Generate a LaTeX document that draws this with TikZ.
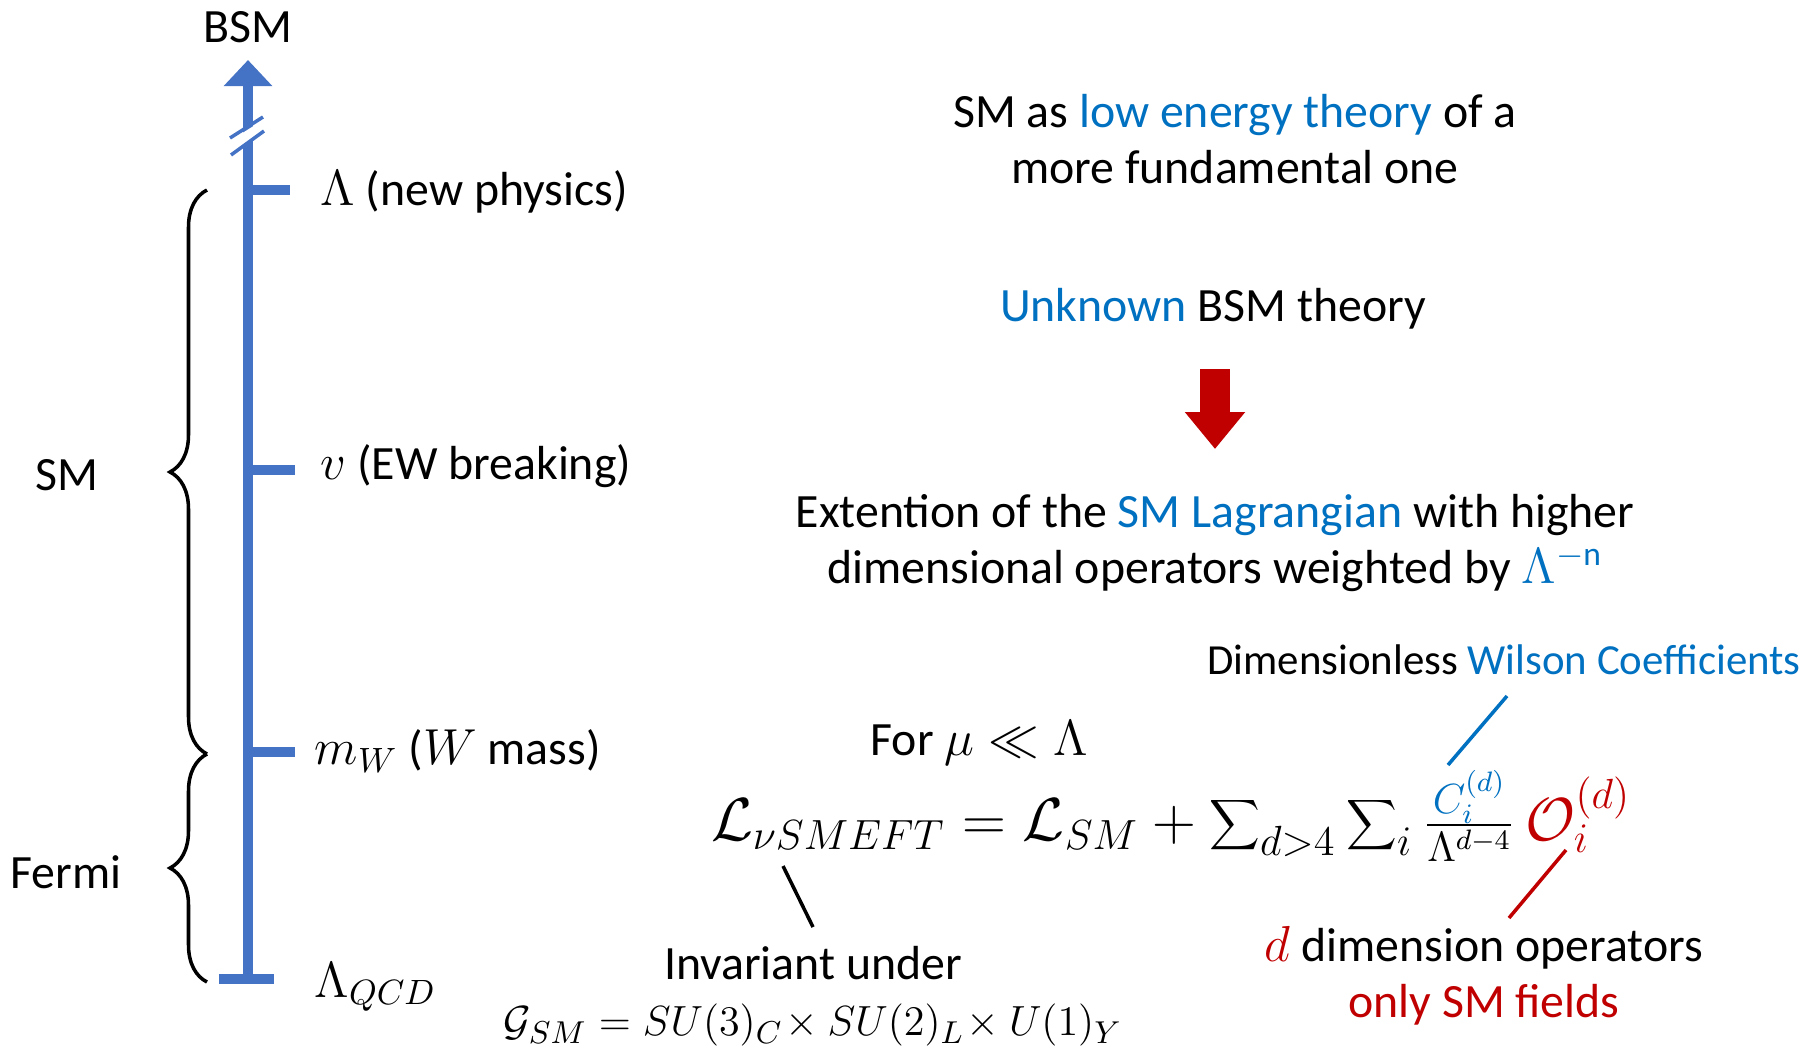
\documentclass[tikz,border=0pt]{standalone}
\usepackage{fontspec}
\setmainfont{Carlito}
\usetikzlibrary{arrows.meta, positioning, decorations.pathreplacing}
\definecolor{axisBlue}{HTML}{4472C4}
\definecolor{textBlue}{HTML}{0070C0}
\definecolor{opRed}{HTML}{C00000}

\begin{document}
\begin{tikzpicture}[
    lbl/.style={font=\fontsize{13.6}{16}\selectfont, inner sep=0pt},
    small/.style={font=\fontsize{12.2}{14}\selectfont, inner sep=0pt},
    tick/.style={line width=0.1cm, color=axisBlue},
    pointer/.style={line width=1pt},
    curly/.style={decorate, decoration={brace, amplitude=0.37cm}, line width=1pt}
  ]
  \useasboundingbox (0,0) rectangle (18.06,-10.53);

  % energy scale
  \draw[tick, -{Triangle[width=0.47cm, length=0.26cm]}] (2.48,-9.79) -- (2.48,-0.60);
  \draw[tick] (2.19,-9.79) -- (2.74,-9.79);
  \foreach \y/\len/\name in {1.90/2.90/np, 4.70/2.95/ew, 7.52/2.95/mw}
    \draw[tick] (2.48,-\y) -- (\len,-\y) coordinate (\name);
  \draw[white, line width=0.1cm] (2.28,-1.48) -- (2.66,-1.24);
  \draw[axisBlue, line width=0.035cm] (2.30,-1.38) -- (2.63,-1.17);
  \draw[axisBlue, line width=0.035cm] (2.31,-1.55) -- (2.64,-1.31);

  \node[lbl] (bsm) at (2.48,-0.27) {BSM};
  \node[lbl, anchor=west] (npLbl) at (3.20,-1.92) {$\Lambda$ (new physics)};
  \node[lbl, anchor=west] (ewLbl) at (3.20,-4.66) {$v$ (EW breaking)};
  \node[lbl, anchor=west] (mwLbl) at (3.14,-7.51) {$m_W$ ($W$ mass)};
  \node[lbl, anchor=west] (qcdLbl) at (3.14,-9.87) {$\Lambda_{QCD}$};

  % theory ranges
  \draw[curly] (2.07,-7.54) -- (2.07,-1.90);
  \draw[curly] (2.07,-9.82) -- (2.07,-7.54);
  \node[lbl] (smLbl) at (0.67,-4.75) {SM};
  \node[lbl] (fermiLbl) at (0.66,-8.72) {Fermi};

  % right column
  \node[lbl, align=center] (low) at (12.35,-1.39)
    {SM as \textcolor{textBlue}{low energy theory} of a\\more fundamental one};
  \node[lbl] (unknown) at (12.13,-3.09) {\textcolor{textBlue}{Unknown} BSM theory};
  \draw[opRed, line width=0.3cm, -{Triangle[width=0.58cm, length=0.37cm]}]
    (12.15,-3.69) -- (12.15,-4.49);
  \node[lbl, align=center] (ext) at (12.15,-5.43)
    {Extention of the \textcolor{textBlue}{SM Lagrangian} with higher\\
     dimensional operators weighted by \textcolor{textBlue}{$\Lambda^{-\mathrm{n}}$}};

  \node[small] (wilson) at (15.04,-6.60)
    {Dimensionless \textcolor{textBlue}{Wilson Coefficients}};
  \node[lbl] (limit) at (9.79,-7.43) {For $\mu \ll \Lambda$};
  \node[font=\fontsize{17}{20}\selectfont, inner sep=0pt] (lag) at (11.71,-8.16)
    {$\mathcal{L}_{\nu SMEFT} = \mathcal{L}_{SM} + \displaystyle\sum\nolimits_{d>4}\sum\nolimits_i
      \textstyle\frac{\color{textBlue}C_i^{(d)}}{\Lambda^{d-4}}\,
      {\color{opRed}\mathcal{O}_i^{(d)}}$};
  \node[lbl, align=center] (inv) at (8.13,-9.965)
    {Invariant under\\\fontsize{12.2}{14}\selectfont
     $\mathcal{G}_{SM} = SU(3)_C\!\times SU(2)_L\!\times U(1)_Y$};
  \node[lbl, align=center] (ops) at (14.84,-9.755)
    {\textcolor{opRed}{$d$} dimension operators\\\textcolor{opRed}{only SM fields}};

  \coordinate (cEnd) at (14.48,-7.65);
  \coordinate (lEnd) at (7.83,-8.66);
  \coordinate (oEnd) at (15.66,-8.50);
  \draw[pointer, textBlue] (15.07,-6.96) -- (cEnd);
  \draw[pointer] (8.13,-9.27) -- (lEnd);
  \draw[pointer, opRed] (15.09,-9.18) -- (oEnd);
\end{tikzpicture}
\end{document}
